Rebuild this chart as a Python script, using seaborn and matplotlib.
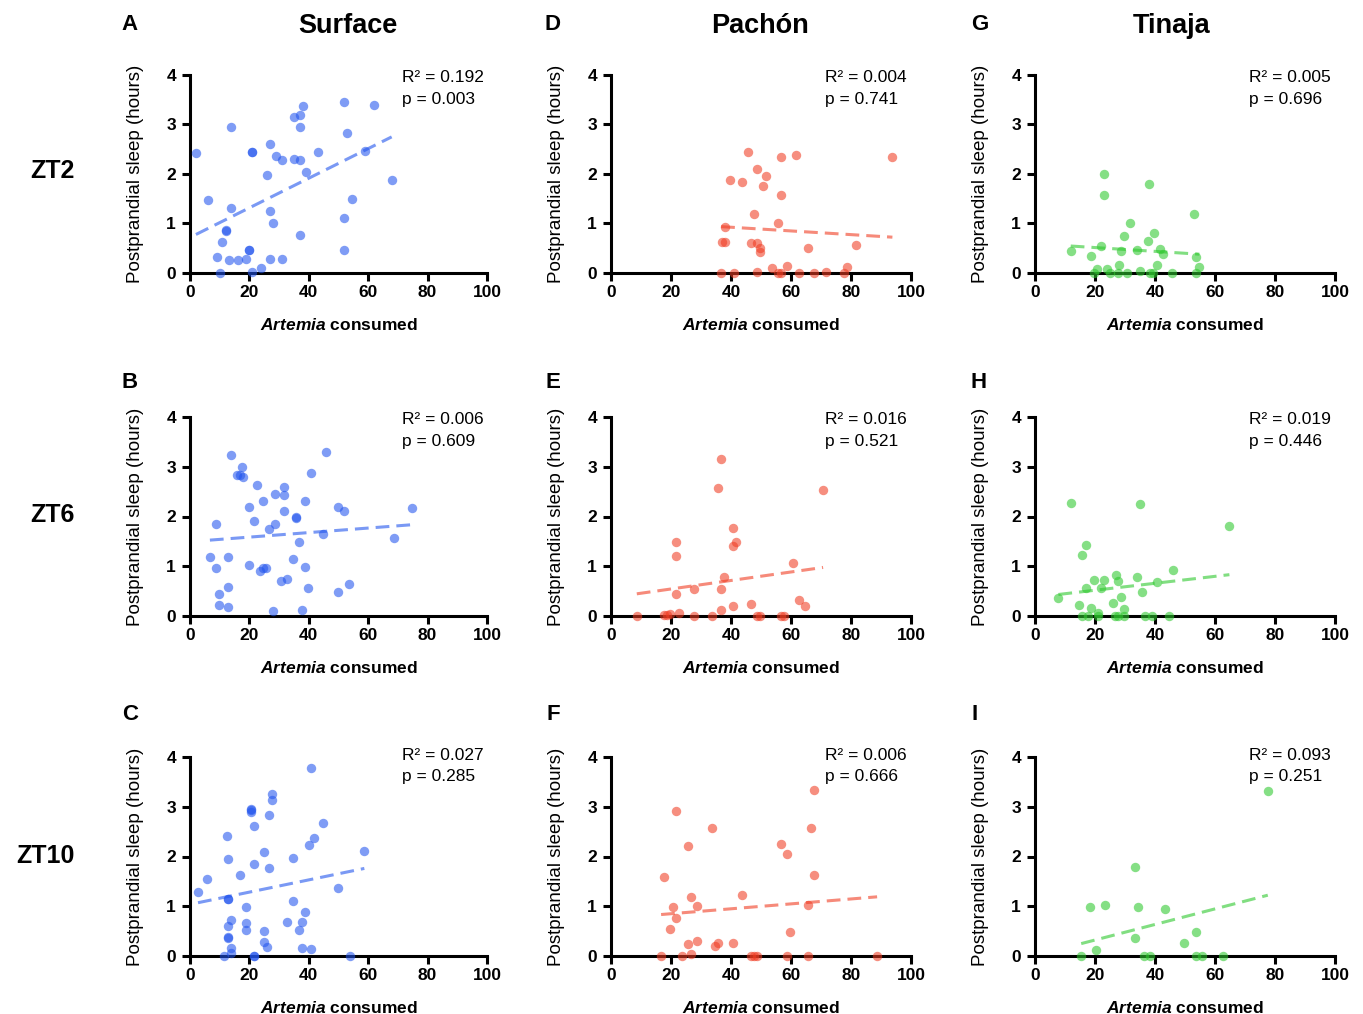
import numpy as np
import pandas as pd
import matplotlib
matplotlib.use("Agg")
import matplotlib.pyplot as plt
import seaborn as sns

# ---------------- data ----------------
# Surface
surf_zt2_x = [2, 6, 13.9, 13.9, 12, 12, 10.9, 9, 10, 13, 16, 19, 20, 20, 21, 21, 21, 24, 27, 26, 27, 28, 27,
              29, 31, 31, 35.1, 37.1, 38, 37.1, 35.1, 37.1, 38.9, 37.1, 43, 51.8, 52.9, 54.7, 51.8, 51.8,
              58.9, 61.9, 67.9]
surf_zt2_y = [2.43, 1.48, 2.95, 1.31, 0.86, 0.84, 0.62, 0.32, 0.0, 0.26, 0.26, 0.28, 0.47, 0.46, 2.45, 2.45,
              0.02, 0.11, 2.61, 1.97, 1.25, 1.0, 0.29, 2.36, 2.29, 0.28, 3.16, 3.19, 3.37, 2.95, 2.31, 2.29,
              2.04, 0.77, 2.44, 3.45, 2.83, 1.49, 1.11, 0.46, 2.46, 3.39, 1.88]
surf_zt6_x = [6.7, 8.7, 8.7, 9.7, 9.7, 12.8, 12.8, 12.8, 13.8, 15.7, 16.7, 17.6, 17.8, 19.8, 19.8, 21.7, 22.7,
              23.7, 24.7, 24.7, 25.6, 26.7, 27.8, 28.7, 28.7, 30.7, 31.7, 31.7, 31.7, 32.7, 34.8, 35.8, 35.8,
              36.7, 37.7, 38.7, 38.7, 39.7, 40.7, 44.8, 45.7, 49.8, 49.8, 51.7, 53.7, 68.7, 74.7]
surf_zt6_y = [1.18, 1.85, 0.96, 0.44, 0.23, 1.18, 0.59, 0.19, 3.24, 2.84, 2.84, 2.99, 2.80, 2.20, 1.03, 1.91,
              2.64, 0.90, 2.31, 0.96, 0.97, 1.75, 0.11, 2.45, 1.84, 0.71, 2.59, 2.44, 2.11, 0.74, 1.14, 1.97,
              1.99, 1.49, 0.13, 2.31, 0.99, 0.57, 2.87, 1.65, 3.30, 2.20, 0.49, 2.12, 0.64, 1.56, 2.18]
surf_zt10_x = [2.7, 5.8, 11.6, 12.6, 12.8, 12.8, 12.8, 12.8, 12.8, 12.8, 13.8, 13.8, 13.8, 16.8, 18.8, 18.8,
               18.8, 20.7, 20.7, 20.7, 21.7, 21.7, 21.7, 21.7, 24.8, 24.8, 24.8, 25.8, 26.7, 26.7, 27.7, 27.7,
               32.8, 34.8, 34.8, 36.8, 37.8, 37.8, 38.8, 39.9, 40.9, 40.9, 41.9, 44.8, 49.8, 53.9, 58.7]
surf_zt10_y = [1.29, 1.55, 0.0, 2.42, 1.95, 1.14, 1.15, 0.60, 0.37, 0.38, 0.72, 0.17, 0.07, 1.62, 0.99, 0.67,
               0.52, 2.94, 2.95, 2.89, 2.61, 1.84, 0.0, 0.01, 2.10, 0.51, 0.28, 0.18, 2.83, 1.77, 3.26, 3.14,
               0.69, 1.96, 1.11, 0.52, 0.68, 0.17, 0.89, 2.23, 3.78, 0.14, 2.38, 2.68, 1.36, 0.01, 2.11]

# Pachón
pach_zt2_x = [36.7, 36.9, 37.9, 37.9, 39.8, 40.9, 43.8, 45.8, 46.8, 47.7, 48.8, 48.8, 49.8, 49.8, 48.8, 50.8,
              51.8, 53.8, 55.8, 55.8, 56.8, 56.8, 56.8, 58.8, 61.8, 62.8, 65.8, 67.8, 71.8, 77.8, 78.7, 81.7,
              93.8]
pach_zt2_y = [0.0, 0.63, 0.63, 0.92, 1.88, 0.0, 1.84, 2.45, 0.61, 1.19, 2.11, 0.61, 0.50, 0.42, 0.03, 1.76,
              1.96, 0.10, 1.0, 0.0, 0.0, 2.34, 1.57, 0.15, 2.39, 0.0, 0.50, 0.0, 0.02, 0.0, 0.13, 0.56, 2.35]
pach_zt6_x = [8.6, 17.6, 18.7, 19.7, 21.6, 21.6, 21.6, 22.6, 27.6, 27.6, 33.6, 35.5, 36.6, 36.6, 36.6, 37.6,
              40.6, 40.6, 41.7, 40.6, 46.7, 48.7, 49.7, 56.7, 57.7, 60.5, 62.7, 64.7, 70.7]
pach_zt6_y = [0.0, 0.03, 0.03, 0.05, 1.48, 1.21, 0.44, 0.06, 0.54, 0.0, 0.0, 2.57, 3.15, 0.54, 0.12, 0.79,
              1.76, 1.41, 1.49, 0.20, 0.25, 0.0, 0.0, 0.0, 0.0, 1.06, 0.33, 0.20, 2.53]
pach_zt10_x = [16.7, 17.8, 19.8, 20.8, 21.8, 21.8, 23.8, 25.8, 25.8, 26.8, 26.8, 28.8, 28.8, 33.8, 34.8, 35.8,
               40.8, 43.8, 46.8, 47.8, 48.8, 56.8, 58.8, 58.8, 59.8, 65.8, 65.8, 66.7, 67.8, 67.8, 88.7]
pach_zt10_y = [0.0, 1.59, 0.55, 0.98, 0.77, 2.91, 0.0, 2.21, 0.24, 1.19, 0.05, 1.0, 0.30, 2.58, 0.21, 0.27,
               0.26, 1.22, 0.0, 0.0, 0.0, 2.25, 2.05, 0.0, 0.48, 1.02, 0.0, 2.58, 1.63, 3.34, 0.0]

# Tinaja
tina_zt2_x = [11.9, 18.8, 19.8, 20.8, 21.9, 22.9, 22.9, 23.9, 24.9, 27.8, 27.9, 28.8, 29.8, 30.8, 31.8, 33.9,
              34.9, 37.8, 37.9, 38.3, 39.2, 39.8, 40.8, 41.8, 42.8, 45.7, 53.0, 53.8, 53.8, 54.8]
tina_zt2_y = [0.44, 0.34, 0.0, 0.08, 0.54, 2.0, 1.57, 0.09, 0.0, 0.0, 0.16, 0.44, 0.75, 0.0, 1.02, 0.47,
              0.04, 0.64, 1.79, 0.0, 0.0, 0.80, 0.16, 0.49, 0.38, 0.0, 1.19, 0.32, 0.0, 0.12]
tina_zt6_x = [7.8, 12.0, 14.8, 15.8, 15.8, 16.9, 16.9, 17.8, 18.8, 19.8, 20.9, 20.9, 22.0, 22.9, 25.9, 26.7,
              26.9, 27.8, 27.8, 28.8, 29.8, 29.8, 33.9, 34.9, 35.8, 36.8, 38.9, 40.8, 44.8, 45.9, 64.8]
tina_zt6_y = [0.36, 2.28, 0.23, 1.23, 0.0, 1.42, 0.57, 0.0, 0.17, 0.73, 0.07, 0.0, 0.57, 0.72, 0.27, 0.0,
              0.82, 0.71, 0.0, 0.39, 0.14, 0.0, 0.79, 2.25, 0.48, 0.0, 0.0, 0.68, 0.0, 0.92, 1.81]
tina_zt10_x = [15.4, 18.4, 20.2, 23.3, 33.4, 33.4, 34.4, 36.4, 38.4, 43.4, 49.6, 53.6, 53.6, 55.6, 62.6, 77.6]
tina_zt10_y = [0.0, 0.99, 0.12, 1.03, 0.36, 1.78, 0.99, 0.0, 0.0, 0.95, 0.26, 0.49, 0.0, 0.0, 0.0, 3.32]

populations = ["Surface", "Pachón", "Tinaja"]
row_labels = ["ZT2", "ZT6", "ZT10"]
panel_letters = [["A", "D", "G"], ["B", "E", "H"], ["C", "F", "I"]]
r2_text = [["0.192", "0.004", "0.005"], ["0.006", "0.016", "0.019"], ["0.027", "0.006", "0.093"]]
p_text = [["0.003", "0.741", "0.696"], ["0.609", "0.521", "0.446"], ["0.285", "0.666", "0.251"]]
x_ticks = [0, 20, 40, 60, 80, 100]
y_ticks = [0, 1, 2, 3, 4]

data = [[(surf_zt2_x, surf_zt2_y), (pach_zt2_x, pach_zt2_y), (tina_zt2_x, tina_zt2_y)],
        [(surf_zt6_x, surf_zt6_y), (pach_zt6_x, pach_zt6_y), (tina_zt6_x, tina_zt6_y)],
        [(surf_zt10_x, surf_zt10_y), (pach_zt10_x, pach_zt10_y), (tina_zt10_x, tina_zt10_y)]]

colors = ["#2255ee", "#f03c22", "#2ec82e"]

# ---------------- style ----------------
sns.set_style("ticks")
plt.rcParams["font.family"] = ["Liberation Sans", "DejaVu Sans"]
plt.rcParams["text.color"] = "black"
plt.rcParams["axes.labelcolor"] = "black"
plt.rcParams["xtick.color"] = "black"
plt.rcParams["ytick.color"] = "black"
plt.rcParams["mathtext.fontset"] = "custom"
plt.rcParams["mathtext.it"] = "Liberation Sans:italic:bold"
plt.rcParams["mathtext.rm"] = "Liberation Sans:bold"
plt.rcParams["mathtext.bf"] = "Liberation Sans:bold"

W, H = 1363, 1014
fig = plt.figure(figsize=(W / 100, H / 100), dpi=100)

col_left = [190, 611, 1035]
col_width = [297, 300, 300]
row_top = [75, 417, 757]
row_bottom = [273, 616, 956]
text_y = [(0.985, 0.875), (0.985, 0.875), (1.01, 0.90)]

for r in range(3):
    for c in range(3):
        left = col_left[c] / W
        bottom = 1 - row_bottom[r] / H
        width = col_width[c] / W
        height = (row_bottom[r] - row_top[r]) / H
        ax = fig.add_axes([left, bottom, width, height])
        xs, ys = data[r][c]
        df = pd.DataFrame({"x": xs, "y": ys})
        col = colors[c]
        sns.regplot(data=df, x="x", y="y", ax=ax, scatter=False, ci=None, truncate=True,
                    line_kws=dict(color=col, alpha=0.6, lw=2.2, ls=(0, (4.5, 2.3))))
        sns.scatterplot(data=df, x="x", y="y", ax=ax, color=col, alpha=0.58, s=46,
                        linewidth=0, clip_on=False, zorder=3)
        ax.set_xlim(0, 100)
        ax.set_ylim(0, 4)
        ax.set_xticks(x_ticks)
        ax.set_yticks(y_ticks)
        sns.despine(ax=ax)
        for sp in ["left", "bottom"]:
            ax.spines[sp].set_linewidth(2.2)
            ax.spines[sp].set_color("black")
        ax.tick_params(width=2.2, length=6, labelsize=12.5, colors="black")
        ax.tick_params(axis="x", pad=3)
        ax.tick_params(axis="y", pad=4)
        for lbl in ax.get_xticklabels() + ax.get_yticklabels():
            lbl.set_fontweight("bold")
        ax.set_xlabel(r"$\it{Artemia}$ consumed", fontsize=12.5, fontweight="bold", labelpad=12)
        ax.set_ylabel("Postprandial sleep (hours)", fontsize=13.5, labelpad=16)
        ax.text(0.714, text_y[r][0], f"R² = {r2_text[r][c]}", transform=ax.transAxes,
                ha="left", va="center", fontsize=12.5)
        ax.text(0.714, text_y[r][1], f"p = {p_text[r][c]}", transform=ax.transAxes,
                ha="left", va="center", fontsize=12.5)

# column titles
title_x = [348, 760, 1172]
for c in range(3):
    fig.text(title_x[c] / W, 1 - 26 / H, populations[c], ha="center", va="center",
             fontsize=19.5, fontweight="bold")

# panel letters
letter_x = [[130, 553, 980], [130, 553, 979], [130, 553, 975]]
letter_y = [25, 383, 714]
for r in range(3):
    for c in range(3):
        fig.text(letter_x[r][c] / W, 1 - letter_y[r] / H, panel_letters[r][c], ha="center",
                 va="center", fontsize=16, fontweight="bold")

# row labels
row_x = [52, 52, 45]
row_y = [171, 515, 856]
for r in range(3):
    fig.text(row_x[r] / W, 1 - row_y[r] / H, row_labels[r], ha="center", va="center",
             fontsize=18, fontweight="bold")

fig.savefig("out.png", dpi=100)
